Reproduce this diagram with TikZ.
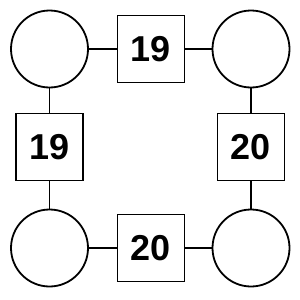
\documentclass[tikz,border=0pt]{standalone}
\usepackage{fontspec}
\setmainfont{Liberation Sans}
\usetikzlibrary{positioning}
\tikzset{
  spot/.style={circle, draw=black, line width=1.8pt, minimum size=77pt, inner sep=0pt},
  wt/.style={rectangle, draw=black, line width=1.8pt, minimum width=67pt, minimum height=67pt, inner sep=0pt, font=\fontsize{36}{36}\selectfont\bfseries},
  edge/.style={draw=black, line width=1.6pt},
}
\begin{document}
\begin{tikzpicture}[x=1pt, y=-1pt]
  \useasboundingbox (0,0) rectangle (300,300);
  \node[spot] (c1) at (49.5,49) {};
  \node[spot] (c2) at (251,49) {};
  \node[spot] (c3) at (49.5,248) {};
  \node[spot] (c4) at (251,248) {};
  \node[wt] (top) at (151,49) {19};
  \node[wt] (lft) at (49.5,147) {19};
  \node[wt] (rgt) at (251,147) {20};
  \node[wt] (bot) at (151,248) {20};
  \foreach \a/\b in {c1/top,top/c2,c3/bot,bot/c4} \draw[edge] (\a) -- (\b);
  \foreach \a/\b in {c1/lft,lft/c3,c2/rgt,rgt/c4} \draw[edge] (\a) -- (\b);
\end{tikzpicture}
\end{document}
